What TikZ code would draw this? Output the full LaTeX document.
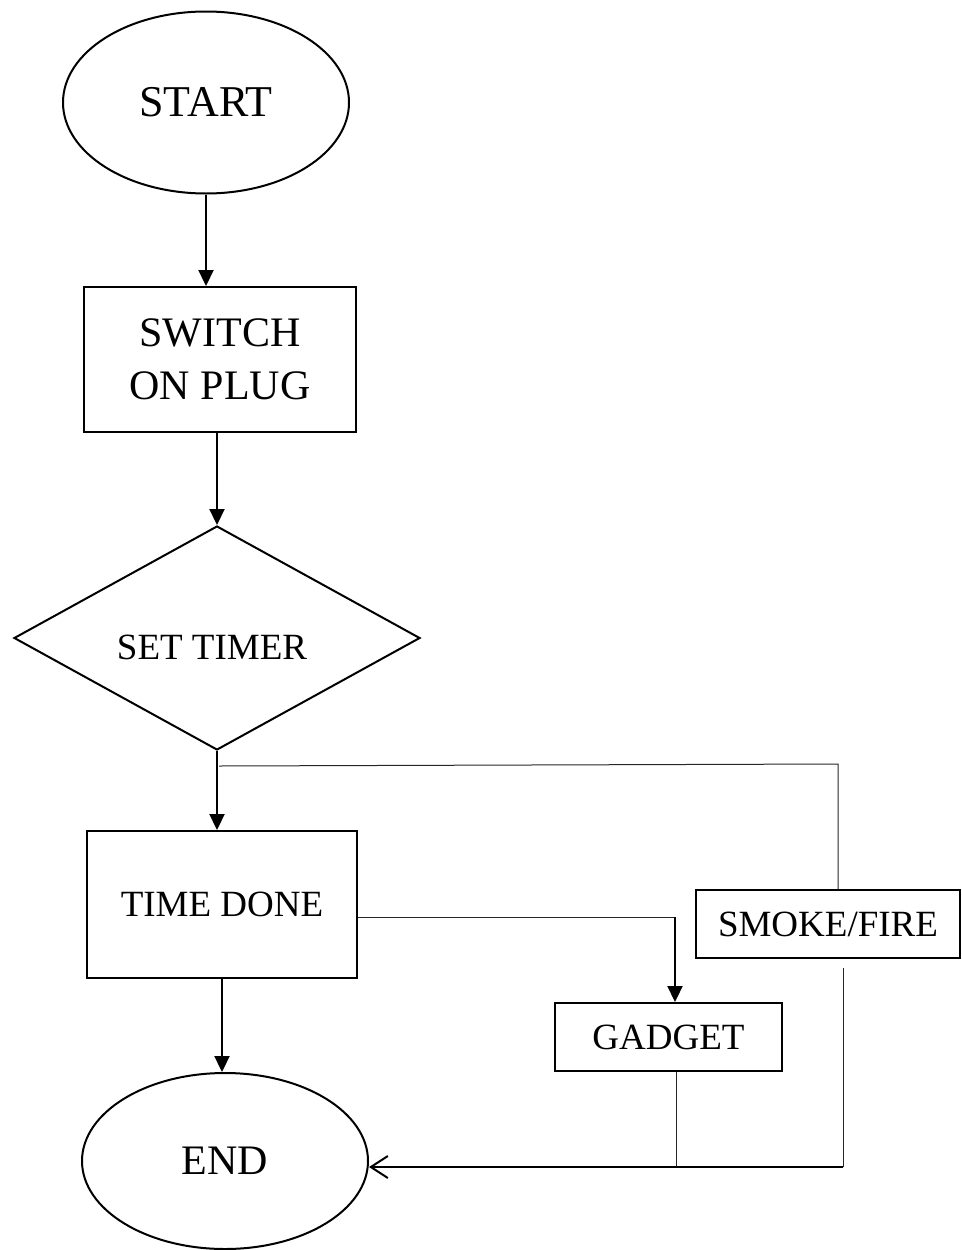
\documentclass[tikz,border=0pt]{standalone}
\usepackage{fontspec}
\setmainfont{Liberation Serif}
\usetikzlibrary{shapes.geometric,arrows.meta}
\begin{document}
\begin{tikzpicture}[x=1pt,y=-1pt,
  shapebox/.style={draw,line width=2pt,inner sep=0pt,align=center},
  bigtext/.style={font=\fontsize{42}{53}\selectfont},
  midtext/.style={font=\fontsize{37}{44}\selectfont},
  flow/.style={line width=2.2pt,-{Triangle[length=16pt,width=15pt]}},
  openflow/.style={line width=2pt,-{Straight Barb[length=17pt,width=22pt]}},
  thinline/.style={line width=1pt,draw=black!85}]
\useasboundingbox (0,0) rectangle (961,1250);
\node[shapebox,ellipse,minimum width=286pt,minimum height=182pt,font=\fontsize{44}{53}\selectfont] (start) at (206,102.5) {START};
\node[shapebox,rectangle,minimum width=272pt,minimum height=145pt,bigtext] (switch) at (220,359.5) {SWITCH\\ON PLUG};
\node[shapebox,diamond,minimum width=406pt,minimum height=224pt] (timer) at (217,638) {};
\node[midtext] (timertext) at (212,647) {SET TIMER};
\node[shapebox,rectangle,minimum width=270pt,minimum height=147pt,midtext] (done) at (222,904.5) {TIME DONE};
\node[shapebox,rectangle,minimum width=227pt,minimum height=68pt,midtext] (gadget) at (668.5,1037) {GADGET};
\node[shapebox,rectangle,minimum width=264pt,minimum height=68pt,midtext] (smoke) at (828,924) {SMOKE/FIRE};
\node[shapebox,ellipse,minimum width=286pt,minimum height=176pt,bigtext] (end) at (225,1161) {END};

\coordinate (b1) at (219,766);
\coordinate (b2) at (838,764);
\coordinate (g1) at (675,917);
\coordinate (j) at (676,1167);
\coordinate (s1) at (843,968);
\coordinate (s2) at (843,1167);

\draw[flow] (start.south) -- (start.south |- switch.north);
\draw[flow] (switch.south -| timer.north) -- (timer.north);
\draw[flow] (timer.south) -- (timer.south |- done.north);
\draw[thinline] (b1) -- (b2) -- (b2 |- smoke.north);
\draw[thinline] (done.east |- g1) -- (g1);
\draw[flow] (g1) -- (g1 |- gadget.north);
\draw[flow] (done.south) -- (done.south |- end.north);
\draw[thinline] (gadget.south -| j) -- (j);
\draw[thinline] (s1) -- (s2);
\draw[openflow] (s2) -- (end.east |- s2);
\end{tikzpicture}
\end{document}
